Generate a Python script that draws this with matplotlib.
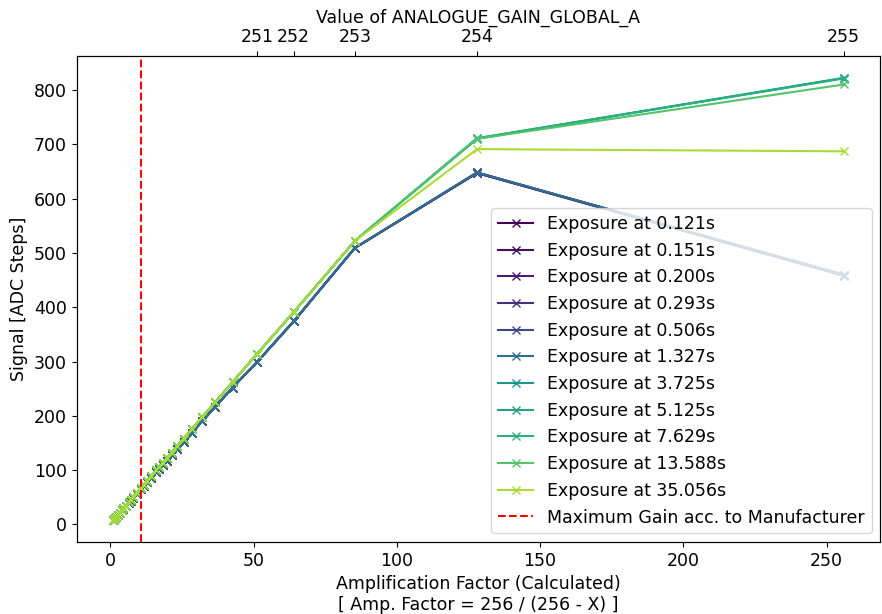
import numpy as np
import matplotlib
matplotlib.use("Agg")
import matplotlib.pyplot as plt

# Register values (ANALOGUE_GAIN_GLOBAL_A) that were measured
registers = [0, 32, 64, 96, 128, 160, 176, 192, 200, 208, 216, 220, 224, 228,
             232, 234, 236, 238, 240, 241, 242, 243, 244, 245, 246, 247, 248,
             249, 250, 251, 252, 253, 254, 255]

exposures = ["0.121", "0.151", "0.200", "0.293", "0.506", "1.327",
             "3.725", "5.125", "7.629", "13.588", "35.056"]

# Signal (ADC steps) for registers 0..253 (shared shape per group)
signal_low_dark = [8.5, 9.3, 10.3, 11.9, 14.2, 18.1, 21.2, 25.9, 29.2, 33.7,
                   39.9, 44.1, 49.3, 56.0, 64.9, 70.6, 77.4, 85.7, 96.1, 102.3,
                   109.5, 117.7, 127.3, 138.6, 152.3, 168.9, 189.7, 216.5,
                   252.1, 299, 374, 509]
signal_low_bright = [8.1, 9.0, 10.1, 11.8, 14.2, 18.3, 21.5, 26.4, 29.9, 34.5,
                     41.0, 45.4, 50.8, 57.8, 67.1, 73.0, 80.1, 88.8, 99.6, 106.1,
                     113.5, 122.1, 132.1, 144.0, 158.2, 175.5, 197.2, 225.1,
                     262.3, 314, 391, 522]

# Signal at registers 254 and 255 for each exposure
tail_values = {
    "0.121": [647, 460],
    "0.151": [648, 459],
    "0.200": [647, 458],
    "0.293": [648, 459],
    "0.506": [647, 458],
    "1.327": [648, 460],
    "3.725": [711, 822],
    "5.125": [710, 822],
    "7.629": [711, 821],
    "13.588": [710, 810],
    "35.056": [691, 687],
}
dark_group = ["0.121", "0.151", "0.200", "0.293", "0.506", "1.327"]

manufacturer_max_register = 232
top_tick_registers = [251, 252, 253, 254, 255]

amp = [256 / (256 - r) for r in registers]

plt.rcParams["font.size"] = 12.5
fig = plt.figure(figsize=(8.82, 6.14), dpi=100)
ax = fig.add_axes([0.087, 0.117, 0.911, 0.792])

cmap = plt.get_cmap("viridis")
logs = np.log10([float(e) for e in exposures])
frac = (logs - logs.min()) / (logs.max() - logs.min())
for i, e in enumerate(exposures):
    base = signal_low_dark if e in dark_group else signal_low_bright
    vals = list(base) + tail_values[e]
    ax.plot(amp, vals, marker="x", color=cmap(0.87 * frac[i]),
            label=f"Exposure at {e}s")

ax.axvline(256 / (256 - manufacturer_max_register), color="red", linestyle="--",
           label="Maximum Gain acc. to Manufacturer")

ax.set_xlabel("Amplification Factor (Calculated)\n[ Amp. Factor = 256 / (256 - X) ]")
ax.set_ylabel("Signal [ADC Steps]")
ax.legend(loc="lower right")

ax2 = ax.twiny()
ax2.set_xlim(ax.get_xlim())
ax2.set_xticks([256 / (256 - r) for r in top_tick_registers])
ax2.set_xticklabels([str(r) for r in top_tick_registers])
ax2.set_xlabel("Value of ANALOGUE_GAIN_GLOBAL_A")

fig.savefig("out.png", dpi=100)
